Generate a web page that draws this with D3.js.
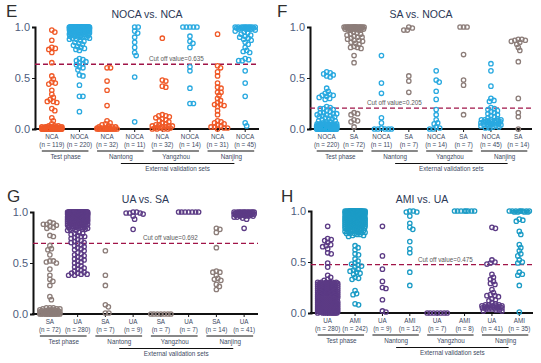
<!DOCTYPE html>
<html>
<head>
<meta charset="utf-8">
<script src="https://cdn.jsdelivr.net/npm/d3@7"></script>
<style>
  body { margin: 0; background: #fff; }
  svg { display: block; }
  text { font-family: 'Liberation Sans', Arial, sans-serif; }
  .small { font-family: 'Liberation Sans', Arial, sans-serif; font-size: 6.3px; fill: #3d4a63; }
</style>
</head>
<body>
<svg id="chart"></svg>
<script>
// Canvas size
var canvasWidth = 541;
var canvasHeight = 363;

// Shared labels
var groupNames = ['Test phase', 'Nantong', 'Yangzhou', 'Nanjing'];
var externalLabel = 'External validation sets';
var yTicks = [0, 0.5, 1];

// Colours per class
var colors = {
  NCA: '#f05a28',
  NOCA: '#29a9e0',
  SA: '#8c7d79',
  UA: '#5c3b85',
  AMI: '#1c9cc6'
};

// ---- Panel E: NOCA vs. NCA ----
var eCategories = ['NCA', 'NOCA', 'NCA', 'NOCA', 'NCA', 'NOCA', 'NCA', 'NOCA'];
var eCounts = [119, 220, 32, 11, 32, 14, 31, 45];
var eCutoff = 0.635;
var eNcaTest = [0.97, 0.95, 0.87, 0.80, 0.79, 0.78, 0.75, 0.65, 0.52, 0.49, 0.46, 0.45, 0.44, 0.38, 0.34, 0.31,
  0.29, 0.27, 0.27, 0.26, 0.20, 0.18, 0.11, 0.08, 0.05, [0.03, 3], [0.02, 6], [0.01, 20], [0, 65]];
var eNocaTest = [[1.0, 45], [0.99, 28], [0.98, 20], [0.97, 15], [0.96, 12], [0.95, 9], [0.94, 7], [0.93, 5],
  [0.92, 4], [0.91, 3], [0.90, 3], [0.89, 2], [0.88, 2], 0.87, 0.86, 0.85, 0.84, 0.83, 0.82, 0.81, 0.80,
  0.79, 0.78, 0.77, 0.69, 0.68, 0.67, 0.66, 0.65, 0.64, 0.63, 0.61, 0.60, 0.58,
  0.53, 0.52, 0.43, 0.32, 0.32, 0.17];
var eNcaNantong = [0.60, 0.60, 0.47, 0.38, 0.23, 0.08, 0.06, 0.05, 0.04, 0.03, [0.02, 3], [0.01, 5], [0, 14]];
var eNocaNantong = [1.0, 1.0, 0.96, 0.94, 0.90, 0.85, 0.80, 0.75, 0.72, 0.51, 0.07];
var eNcaYangzhou = [0.89, 0.48, 0.47, 0.42, 0.41, 0.14, 0.13, 0.13, 0.12, 0.11, 0.10, 0.09, 0.08, 0.07, 0.06, 0.05,
  [0.04, 2], [0.03, 3], [0.02, 3], [0.01, 3], [0, 4]];
var eNocaYangzhou = [[1.0, 5], 0.91, 0.86, 0.84, 0.80, 0.61, 0.57, 0.40, 0.25, 0.25];
var eNcaNanjing = [0.93, 0.62, 0.60, 0.56, 0.52, 0.45, 0.41, 0.40, 0.36, 0.36, 0.33, 0.30, 0.28, 0.26, 0.24, 0.24,
  0.23, 0.22, 0.18, 0.14, 0.08, 0.07, 0.06, 0.05, 0.04, 0.03, 0.02, 0.02, 0.01, 0.01, 0];
var eNocaNanjing = [[1.0, 10], [0.99, 5], [0.98, 4], 0.97, 0.96, 0.95, 0.94, 0.93, 0.92, 0.91, 0.90, 0.89, 0.88,
  0.87, 0.85, 0.83, 0.80, 0.77, 0.76, 0.75, 0.69, 0.68, 0.67, 0.67, 0.57, 0.45, 0.32, 0.06, 0.03];

// ---- Panel F: SA vs. NOCA ----
var fCategories = ['NOCA', 'SA', 'NOCA', 'SA', 'NOCA', 'SA', 'NOCA', 'SA'];
var fCounts = [220, 72, 11, 7, 14, 7, 45, 14];
var fCutoff = 0.205;
var fNocaTest = [0.56, 0.55, 0.54, 0.53, 0.52, 0.51, 0.40, 0.37, 0.35, 0.34, 0.33, 0.33, 0.32, 0.31, 0.30, 0.29,
  0.22, 0.21, 0.20, 0.20, 0.19, 0.18, 0.17, 0.16, 0.16, 0.15, 0.15, 0.14, 0.14, 0.13, 0.13, 0.12, 0.12, 0.11,
  0.10, 0.10, 0.09, 0.08, 0.08, 0.07, 0.07, 0.06, [0.05, 6], [0.04, 8], [0.03, 12], [0.02, 20], [0.01, 40], [0, 80]];
var fSaTest = [[1.0, 20], [0.99, 8], [0.98, 5], [0.97, 4], 0.95, 0.94, 0.93, 0.93, 0.92, 0.91, 0.90, 0.90, 0.89,
  0.88, 0.87, 0.87, 0.86, 0.85, 0.84, 0.83, 0.81, 0.80, 0.80, 0.79, 0.72, 0.65, 0.16, 0.15, 0.14, 0.09, 0.08,
  0.07, 0.02];
var fNocaNantong = [0.72, 0.45, 0.35, 0.11, 0.06, 0.01, [0, 5]];
var fSaNantong = [1.0, 0.99, 0.97, 0.97, 0.52, 0.47, 0.36];
var fNocaYangzhou = [0.57, 0.48, 0.46, 0.37, 0.29, 0.19, 0.14, 0.09, 0.06, 0.05, 0.02, 0.01, 0, 0];
var fSaYangzhou = [1.0, 1.0, 1.0, 0.73, 0.48, 0.43, 0.14];
var fNocaNanjing = [0.64, 0.57, 0.42, 0.30, 0.28, 0.27, 0.21, 0.20, 0.19, 0.18, 0.17, 0.16, 0.15, 0.14, 0.13,
  0.12, 0.11, 0.10, [0.09, 4], [0.08, 4], [0.07, 4], [0.06, 3], [0.05, 3], [0.04, 3], [0.03, 3], [0.02, 2], [0.01, 2]];
var fSaNanjing = [0.88, 0.88, 0.87, 0.87, 0.86, 0.85, 0.83, 0.80, 0.77, 0.66, 0.30, 0.16, 0.12, 0];

// ---- Panel G: UA vs. SA ----
var gCategories = ['SA', 'UA', 'SA', 'UA', 'SA', 'UA', 'SA', 'UA'];
var gCounts = [72, 280, 7, 9, 7, 7, 14, 41];
var gCutoff = 0.692;
var gSaTest = [0.90, 0.89, 0.88, 0.88, 0.87, 0.86, 0.85, 0.84, 0.77, 0.76, 0.67, 0.64, 0.63, 0.58, 0.52, 0.52,
  0.51, 0.50, 0.44, 0.38, 0.34, 0.32, 0.28, 0.17, 0.14, [0.06, 3], [0.05, 3], [0.04, 4], [0.03, 5], [0.02, 8],
  [0.01, 12], [0, 15]];
var gUaTest = [[1.0, 40], [0.99, 28], [0.98, 22], [0.97, 18], [0.96, 16], [0.95, 14], [0.94, 12], [0.93, 10],
  [0.92, 9], [0.91, 8], [0.90, 7], [0.89, 6], [0.88, 5], [0.87, 5], [0.86, 4], [0.85, 4], [0.84, 3], [0.83, 3],
  [0.82, 2], 0.80, 0.79, 0.79, 0.78, 0.77, 0.76, 0.76, 0.75, 0.74, 0.73, 0.72, 0.71, 0.70, 0.70, 0.69, 0.68, 0.67,
  0.66, 0.65, 0.64, 0.63, 0.62, 0.60, 0.59, 0.58, 0.57, 0.56, 0.55, 0.54, 0.53, 0.52, 0.51, 0.50, 0.48, 0.47,
  0.46, 0.45, 0.44, 0.43, 0.42, 0.41, 0.40, 0.40, 0.39, 0.39, 0.38, 0.38];
var gSaNantong = [0.62, 0.38, 0.28, 0.09, 0.07, 0.01, 0.01];
var gUaNantong = [1.0, 1.0, 0.99, 0.99, 0.99, 0.98, 0.96, 0.93, 0.83];
var gSaYangzhou = [[0, 7]];
var gUaYangzhou = [[1.0, 7]];
var gSaNanjing = [0.84, 0.83, 0.80, 0.65, 0.42, 0.41, 0.41, 0.38, 0.35, 0.34, 0.33, 0.29, 0.27, 0.24];
var gUaNanjing = [[1.0, 12], [0.99, 8], [0.98, 7], [0.97, 6], [0.96, 4], [0.95, 2], 0.94, 0.93, 0.84];

// ---- Panel H: AMI vs. UA ----
var hCategories = ['UA', 'AMI', 'UA', 'AMI', 'UA', 'AMI', 'UA', 'AMI'];
var hCounts = [280, 242, 9, 12, 7, 8, 41, 35];
var hCutoff = 0.475;
var hUaTest = [0.85, 0.73, 0.72, 0.71, 0.69, 0.67, 0.66, 0.65, 0.63, 0.59, 0.58, 0.49, 0.45, 0.37, 0.35, 0.33,
  0.32, [0.30, 6], [0.29, 7], [0.28, 7], [0.27, 7], [0.26, 7], [0.25, 7], [0.24, 7], [0.23, 7], [0.22, 8], [0.21, 8],
  [0.20, 8], [0.19, 8], [0.18, 8], [0.17, 8], [0.16, 8], [0.15, 8], [0.14, 8], [0.13, 8], [0.12, 8], [0.11, 8],
  [0.10, 8], [0.09, 8], [0.08, 9], [0.07, 9], [0.06, 9], [0.05, 9], [0.04, 9], [0.03, 9], [0.02, 9], [0.01, 9], [0, 10]];
var hAmiTest = [[1.0, 32], [0.99, 22], [0.98, 16], [0.97, 13], [0.96, 11], [0.95, 10], [0.94, 9], [0.93, 9],
  [0.92, 9], [0.91, 8], [0.90, 8], [0.89, 8], [0.88, 7], [0.87, 7], [0.86, 6], [0.85, 6], [0.84, 5], [0.83, 5],
  [0.82, 4], [0.81, 4], [0.80, 4], [0.79, 3], [0.78, 3], [0.77, 2], [0.76, 2], 0.75, 0.66, 0.64, 0.62, 0.58,
  0.57, 0.53, 0.51, 0.49, 0.48, 0.47, 0.46, 0.45, 0.43, 0.42, 0.41, 0.40, 0.39, 0.38, 0.35, 0.34, 0.33, 0.22,
  0.19, 0.18, 0.09, 0.08];
var hUaNantong = [0.85, 0.56, 0.43, 0.31, 0.25, 0.24, 0.13, 0.02, 0.01];
var hAmiNantong = [1.0, 1.0, 0.99, 0.99, 0.95, 0.88, 0.84, 0.82, 0.70, 0.63, 0.59, 0.40, 0.27];
var hUaYangzhou = [[0, 7]];
var hAmiYangzhou = [[1.0, 8]];
var hUaNanjing = [0.84, 0.83, 0.52, 0.50, 0.49, 0.48, 0.38, 0.35, 0.33, 0.31, 0.29, 0.28, 0.23, 0.20, 0.18, 0.17,
  0.17, 0.16, 0.14, 0.13, 0.12, 0.10, 0.09, [0.08, 3], [0.07, 4], [0.06, 4], [0.05, 4], [0.04, 3], [0.03, 2], [0.02, 2]];
var hAmiNanjing = [[1.0, 8], [0.99, 4], 0.92, 0.91, 0.90, 0.80, 0.77, 0.67, 0.64, 0.61, 0.58, 0.56, 0.52, 0.50,
  0.49, 0.40, 0.38, 0.37, 0.27, 0.01];

// Panel layouts (positions only)
var panels = [
  { letter: 'E', title: 'NOCA vs. NCA', ox: 0, oy: 0, axisX: 35, yTop: 27, yBot: 129, xEnd: 259, letterX: 6, letterY: 17, titleY: 18,
    categories: eCategories, counts: eCounts, cutoff: eCutoff, cutX: 149,
    series: [eNcaTest, eNocaTest, eNcaNantong, eNocaNantong, eNcaYangzhou, eNocaYangzhou, eNcaNanjing, eNocaNanjing] },
  { letter: 'F', title: 'SA vs. NOCA', ox: 270, oy: 0, axisX: 40, yTop: 27, yBot: 129, xEnd: 262, letterX: 7, letterY: 17, titleY: 18,
    categories: fCategories, counts: fCounts, cutoff: fCutoff, cutX: 97,
    series: [fNocaTest, fSaTest, fNocaNantong, fSaNantong, fNocaYangzhou, fSaYangzhou, fNocaNanjing, fSaNanjing] },
  { letter: 'G', title: 'UA vs. SA', ox: 0, oy: 180, axisX: 33, yTop: 32, yBot: 134, xEnd: 258, letterX: 7, letterY: 22, titleY: 23,
    categories: gCategories, counts: gCounts, cutoff: gCutoff, cutX: 143,
    series: [gSaTest, gUaTest, gSaNantong, gUaNantong, gSaYangzhou, gUaYangzhou, gSaNanjing, gUaNanjing] },
  { letter: 'H', title: 'AMI vs. UA', ox: 270, oy: 180, axisX: 41, yTop: 31, yBot: 133, xEnd: 263, letterX: 11, letterY: 22, titleY: 23,
    categories: hCategories, counts: hCounts, cutoff: hCutoff, cutX: 148,
    series: [hUaTest, hAmiTest, hUaNantong, hAmiNantong, hUaYangzhou, hAmiYangzhou, hUaNanjing, hAmiNanjing] }
];

var dotRadius = 2.2;
var minDist = 3.4;
var maxHalf = 10;

/**
 * Expands [value, count] pairs into plain values.
 */
function expand(list) {
  var out = [];
  list.forEach(function(d) {
    if (Array.isArray(d)) {
      for (var i = 0; i < d[1]; i++) out.push(d[0]);
    } else {
      out.push(d);
    }
  });
  return out;
}

/**
 * Simple beeswarm: offsets each point sideways until it stops touching others.
 */
function swarm(values, yScale) {
  var sorted = values.slice().sort(d3.descending);
  var placed = [];
  var step = 0.5;
  sorted.forEach(function(v) {
    var cy = yScale(v);
    var best = 0;
    var bestScore = -1;
    for (var k = 0; ; k++) {
      var off = (k % 2 ? 1 : -1) * Math.ceil(k / 2) * step;
      if (Math.abs(off) > maxHalf) break;
      var minD = Infinity;
      placed.forEach(function(p) {
        var dx = p.x - off, dy = p.y - cy;
        var dd = Math.sqrt(dx * dx + dy * dy);
        if (dd < minD) minD = dd;
      });
      if (minD >= minDist) { best = off; break; }
      if (minD > bestScore) { bestScore = minD; best = off; }
    }
    placed.push({ x: best, y: cy, v: v });
  });
  return placed;
}

var svg = d3.select('#chart')
  .attr('width', canvasWidth)
  .attr('height', canvasHeight);

function drawPanel(p) {
  var g = svg.append('g')
    .attr('transform', 'translate(' + p.ox + ',' + p.oy + ')');

  var xScale = d3.scaleBand()
    .domain(d3.range(p.categories.length))
    .range([p.axisX + 3, p.xEnd]);

  var yScale = d3.scaleLinear()
    .domain([0, 1])
    .range([p.yBot, p.yTop]);

  function cx(i) { return xScale(i) + xScale.bandwidth() / 2; }

  // Letter and title
  g.append('text')
    .attr('x', p.letterX)
    .attr('y', p.letterY)
    .attr('font-size', 17)
    .attr('fill', '#2f2f2f')
    .text(p.letter);

  g.append('text')
    .attr('x', (p.axisX + p.xEnd) / 2)
    .attr('y', p.titleY)
    .attr('text-anchor', 'middle')
    .attr('font-size', 10.5)
    .attr('fill', '#2b3856')
    .text(p.title);

  // Y axis
  var yAxis = d3.axisLeft(yScale)
    .tickValues(yTicks)
    .tickFormat(d3.format('.1f'))
    .tickSize(3)
    .tickPadding(2);

  var ya = g.append('g')
    .attr('transform', 'translate(' + p.axisX + ',0)')
    .call(yAxis);
  ya.select('.domain').attr('stroke', '#111').attr('stroke-width', 2);
  ya.selectAll('.tick line').attr('stroke', '#111');
  ya.selectAll('.tick text')
    .attr('font-family', "'Liberation Sans', Arial, sans-serif")
    .attr('font-size', 11)
    .attr('fill', '#4e5c7c');

  // X axis baseline with ticks
  g.append('line')
    .attr('x1', p.axisX - 1)
    .attr('x2', p.xEnd)
    .attr('y1', p.yBot)
    .attr('y2', p.yBot)
    .attr('stroke', '#111')
    .attr('stroke-width', 2);

  g.selectAll('.xtick')
    .data(p.categories)
    .enter()
    .append('line')
    .attr('x1', function(d, i) { return cx(i); })
    .attr('x2', function(d, i) { return cx(i); })
    .attr('y1', p.yBot)
    .attr('y2', p.yBot + 3)
    .attr('stroke', '#111');

  // Cutoff line
  g.append('line')
    .attr('x1', p.axisX)
    .attr('x2', p.xEnd)
    .attr('y1', yScale(p.cutoff))
    .attr('y2', yScale(p.cutoff))
    .attr('stroke', '#a01448')
    .attr('stroke-width', 1.3)
    .attr('stroke-dasharray', '5,3');

  g.append('text')
    .classed('small', true)
    .attr('x', p.cutX)
    .attr('y', yScale(p.cutoff) - 3)
    .style('fill', '#5a5a5a')
    .text('Cut off value=' + p.cutoff);

  // Dots
  p.series.forEach(function(list, i) {
    var pts = swarm(expand(list), yScale);
    g.append('g')
      .selectAll('circle')
      .data(pts)
      .enter()
      .append('circle')
      .attr('cx', function(d) { return cx(i) + d.x; })
      .attr('cy', function(d) { return d.y; })
      .attr('r', dotRadius)
      .attr('fill', 'none')
      .attr('stroke', colors[p.categories[i]])
      .attr('stroke-width', 1.3);
  });

  // Category labels
  g.selectAll('.cat')
    .data(p.categories)
    .enter()
    .append('text')
    .classed('small', true)
    .attr('x', function(d, i) { return cx(i); })
    .attr('y', p.yBot + 10)
    .attr('text-anchor', 'middle')
    .text(function(d) { return d; });

  g.selectAll('.cnt')
    .data(p.counts)
    .enter()
    .append('text')
    .classed('small', true)
    .attr('x', function(d, i) { return cx(i); })
    .attr('y', p.yBot + 18)
    .attr('text-anchor', 'middle')
    .text(function(d) { return '(n = ' + d + ')'; });

  // Group underlines and names
  groupNames.forEach(function(name, k) {
    var a = cx(2 * k), b = cx(2 * k + 1);
    g.append('line')
      .attr('x1', a - 10)
      .attr('x2', b + 9)
      .attr('y1', p.yBot + 22)
      .attr('y2', p.yBot + 22)
      .attr('stroke', '#111')
      .attr('stroke-width', 1);
    g.append('text')
      .classed('small', true)
      .attr('x', (a + b) / 2)
      .attr('y', p.yBot + 29.5)
      .attr('text-anchor', 'middle')
      .text(name);
  });

  var extA = (cx(2) + cx(3)) / 2;
  var extB = (cx(6) + cx(7)) / 2 + 3;
  g.append('line')
    .attr('x1', extA)
    .attr('x2', extB)
    .attr('y1', p.yBot + 34.5)
    .attr('y2', p.yBot + 34.5)
    .attr('stroke', '#111')
    .attr('stroke-width', 1);
  g.append('text')
    .classed('small', true)
    .attr('x', (extA + extB) / 2)
    .attr('y', p.yBot + 41.5)
    .attr('text-anchor', 'middle')
    .text(externalLabel);
}

panels.forEach(drawPanel);
</script>
</body>
</html>
